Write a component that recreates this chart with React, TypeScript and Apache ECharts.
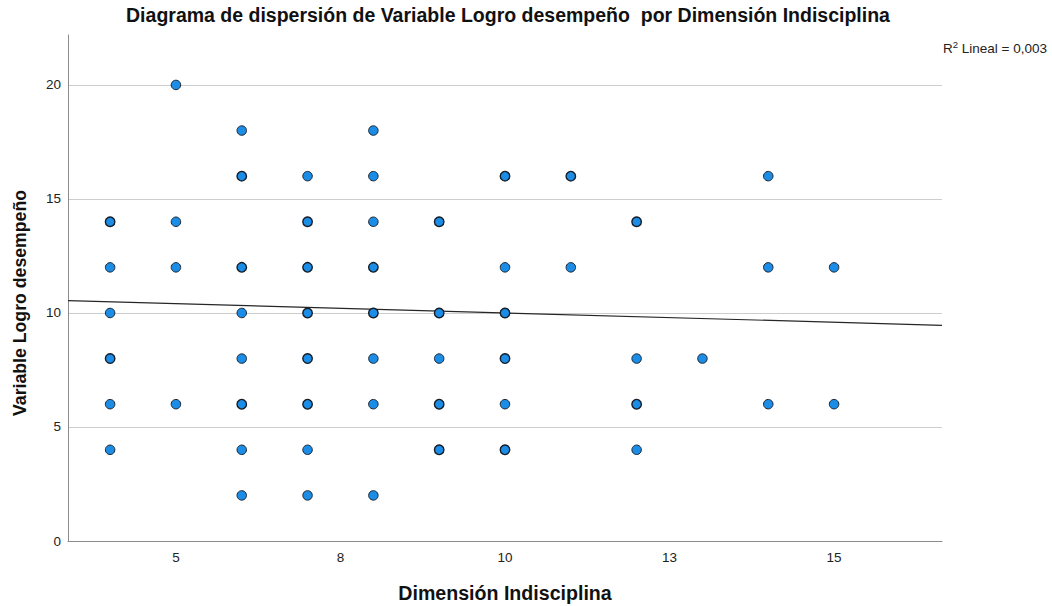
import React, { useEffect, useRef } from 'react';
import * as echarts from 'echarts';

const chartTitle = 'Diagrama de dispersión de Variable Logro desempeño  por Dimensión Indisciplina';
const xAxisName = 'Dimensión Indisciplina';
const yAxisName = 'Variable Logro desempeño';
const rSquaredText = ' Lineal = 0,003';

const xTickValues = [5, 7.5, 10, 12.5, 15];
const yTickValues = [0, 5, 10, 15, 20];

// points that appear once
const singlePoints: number[][] = [
  [4, 12], [4, 10], [4, 6], [4, 4],
  [5, 20], [5, 14], [5, 12], [5, 6],
  [6, 18], [6, 10], [6, 8], [6, 4], [6, 2],
  [7, 16], [7, 4], [7, 2],
  [8, 18], [8, 16], [8, 14], [8, 8], [8, 6], [8, 2],
  [9, 8],
  [10, 12], [10, 6],
  [11, 12],
  [12, 8], [12, 4],
  [13, 8],
  [14, 16], [14, 12], [14, 6],
  [15, 12], [15, 6],
];

// points that overlap several cases (darker outline)
const multiPoints: number[][] = [
  [4, 14], [4, 8],
  [6, 16], [6, 12], [6, 6],
  [7, 14], [7, 12], [7, 10], [7, 8], [7, 6],
  [8, 12], [8, 10],
  [9, 14], [9, 10], [9, 6], [9, 4],
  [10, 16], [10, 10], [10, 8], [10, 4],
  [11, 16],
  [12, 14], [12, 6],
];

const fitLine: number[][] = [[3.36, 10.54], [16.64, 9.46]];

const FONT = '"Liberation Sans", Arial, sans-serif';

export default function App() {
  const ref = useRef<HTMLDivElement>(null);
  useEffect(() => {
    if (!ref.current) return;
    const chart = echarts.init(ref.current, undefined, { renderer: 'svg' });
    chart.setOption({
      animation: false,
      backgroundColor: '#ffffff',
      textStyle: { fontFamily: FONT },
      grid: { left: 68, right: 110, top: 35, bottom: 65, containLabel: false, outerBoundsMode: 'none' },
      xAxis: {
        type: 'value',
        min: 3.36,
        max: 16.64,
        axisLine: { show: true, lineStyle: { color: '#8c8c8c', width: 1 } },
        axisTick: { show: false, customValues: xTickValues },
        splitLine: { show: false },
        axisLabel: {
          customValues: xTickValues,
          formatter: (v: number) => String(Math.round(v)),
          color: '#222',
          fontSize: 13.5,
          margin: 9,
          fontFamily: FONT,
        },
      },
      yAxis: {
        type: 'value',
        min: 0,
        max: 22.19,
        axisLine: { show: true, lineStyle: { color: '#8c8c8c', width: 1 } },
        axisTick: { show: false, customValues: yTickValues },
        splitLine: { show: true, lineStyle: { color: '#cdcdcd', width: 1 } },
        axisLabel: {
          customValues: yTickValues,
          color: '#222',
          fontSize: 13.5,
          margin: 7,
          fontFamily: FONT,
        },
      },
      series: [
        {
          type: 'line',
          data: fitLine,
          symbol: 'none',
          lineStyle: { color: '#262626', width: 1.2 },
          z: 3,
          silent: true,
        },
        {
          type: 'scatter',
          data: singlePoints,
          symbolSize: 9.5,
          itemStyle: { color: '#1c8de6', opacity: 1, borderColor: '#1b2633', borderWidth: 1 },
          z: 4,
        },
        {
          type: 'scatter',
          data: multiPoints,
          symbolSize: 9.5,
          itemStyle: { color: '#1c8de6', opacity: 1, borderColor: '#151d27', borderWidth: 1.4 },
          z: 4,
        },
      ],
      graphic: [
        {
          type: 'text',
          x: 508,
          y: 15,
          style: {
            text: chartTitle,
            font: `bold 19.5px ${FONT}`,
            fill: '#111',
            textAlign: 'center',
            textVerticalAlign: 'middle',
          },
        },
        {
          type: 'text',
          x: 505,
          y: 593,
          style: {
            text: xAxisName,
            font: `bold 19.6px ${FONT}`,
            fill: '#111',
            textAlign: 'center',
            textVerticalAlign: 'middle',
          },
        },
        {
          type: 'text',
          x: 20,
          y: 303,
          rotation: Math.PI / 2,
          style: {
            text: yAxisName,
            font: `bold 17.7px ${FONT}`,
            fill: '#111',
            textAlign: 'center',
            textVerticalAlign: 'middle',
          },
        },
        {
          type: 'text',
          x: 943,
          y: 47,
          style: {
            text: '{a|R}{s|2}{a|' + rSquaredText + '}',
            textAlign: 'left',
            textVerticalAlign: 'middle',
            rich: {
              a: { fontSize: 13.5, fontFamily: FONT, fill: '#222', color: '#222', verticalAlign: 'bottom', lineHeight: 16 },
              s: { fontSize: 9.5, fontFamily: FONT, fill: '#222', color: '#222', verticalAlign: 'top', lineHeight: 16 },
            },
          },
        },
      ],
    });
    return () => chart.dispose();
  }, []);
  return <div ref={ref} style={{ position: 'absolute', left: 0, top: 0, width: 1052, height: 606 }} />;
}
